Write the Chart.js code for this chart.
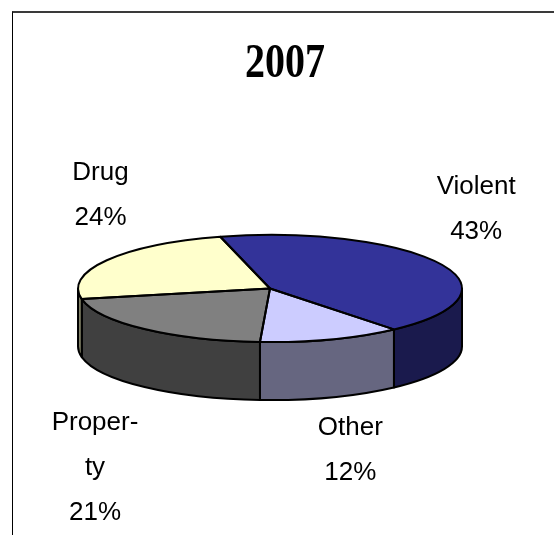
<!DOCTYPE html>
<html>
<head>
<meta charset="utf-8">
<script src="https://cdn.jsdelivr.net/npm/chart.js@4.4.1/dist/chart.umd.min.js"></script>
<style>
  html, body { margin: 0; padding: 0; background: #fff; overflow: hidden; }
  #wrap { position: relative; width: 554px; height: 535px; overflow: hidden; }
  #frame { position: absolute; left: 12px; top: 11px; width: 700px; height: 700px;
           border-top: 2px solid #3a3a3a; border-left: 1px solid #000; }
  canvas { position: absolute; left: 0; top: 0; }
</style>
</head>
<body>
<div id="wrap">
  <div id="frame"></div>
  <canvas id="chart" width="554" height="535"></canvas>
</div>
<script>
// Offender categories for 2007 and their shares (percent)
const chartTitle = '2007';
const categories = ['Violent', 'Other', 'Property', 'Drug'];
const shares = [43, 12, 21, 24];

// Palette: top faces and the darker side walls
const topColors  = ['#333399', '#CCCCFF', '#808080', '#FFFFCC'];
const sideColors = ['#1a1a4d', '#666680', '#404040', '#808066'];

// Per-label nudges from the default label spot (x, y in px)
const labelNudge = [[19, -67], [13, 33], [-37, 39], [10, -77]];

const TILT = 0.279;   // vertical squash of the disc
const DEPTH = 58;     // thickness of the disc in px
const LINE_H = 45;    // label line height

function wrapWord(ctx, word, maxW) {
  if (ctx.measureText(word).width <= maxW) return [word];
  let n = word.length - 1;
  while (n > 1 && ctx.measureText(word.slice(0, n) + '-').width > maxW) n--;
  return [word.slice(0, n) + '-'].concat(wrapWord(ctx, word.slice(n), maxW));
}

function arcProps(arc) {
  return arc.getProps(['x', 'y', 'startAngle', 'endAngle', 'outerRadius'], true);
}

const pie3d = {
  id: 'pie3d',
  beforeDatasetsDraw(chart) {
    const ctx = chart.ctx;
    const arcs = chart.getDatasetMeta(0).data;

    // front walls: the part of each slice that faces the viewer (0..PI)
    ctx.save();
    ctx.lineWidth = 2;
    ctx.lineJoin = 'round';
    ctx.strokeStyle = '#000';
    arcs.forEach((arc, i) => {
      const p = arcProps(arc);
      const ry = p.outerRadius * TILT;
      [-2 * Math.PI, 0, 2 * Math.PI].forEach(base => {
        const a1 = Math.max(p.startAngle, base);
        const a2 = Math.min(p.endAngle, base + Math.PI);
        if (a2 - a1 <= 1e-6) return;
        ctx.beginPath();
        ctx.ellipse(p.x, p.y, p.outerRadius, ry, 0, a1, a2);
        ctx.lineTo(p.x + p.outerRadius * Math.cos(a2), p.y + ry * Math.sin(a2) + DEPTH);
        ctx.ellipse(p.x, p.y + DEPTH, p.outerRadius, ry, 0, a2, a1, true);
        ctx.closePath();
        ctx.fillStyle = sideColors[i];
        ctx.fill();
        ctx.stroke();
      });
    });
    ctx.restore();

    // squash the library's circular slices into the tilted disc
    const c = arcProps(arcs[0]);
    ctx.save();
    ctx.translate(c.x, c.y);
    ctx.scale(1, TILT);
    ctx.translate(-c.x, -c.y);
  },
  afterDatasetsDraw(chart) {
    const ctx = chart.ctx;
    ctx.restore();
    const arcs = chart.getDatasetMeta(0).data;
    const total = shares.reduce((a, b) => a + b, 0);

    // slice outlines on the top face
    ctx.save();
    ctx.lineWidth = 2;
    ctx.lineJoin = 'round';
    ctx.strokeStyle = '#000';
    arcs.forEach(arc => {
      const p = arcProps(arc);
      ctx.beginPath();
      ctx.moveTo(p.x, p.y);
      ctx.ellipse(p.x, p.y, p.outerRadius, p.outerRadius * TILT, 0, p.startAngle, p.endAngle);
      ctx.closePath();
      ctx.stroke();
    });
    ctx.restore();

    // category labels with percentages
    ctx.save();
    ctx.font = '26px "Liberation Sans", Arial, sans-serif';
    ctx.textAlign = 'center';
    ctx.textBaseline = 'alphabetic';
    ctx.fillStyle = '#000';
    arcs.forEach((arc, i) => {
      const p = arcProps(arc);
      const mid = (p.startAngle + p.endAngle) / 2;
      const lower = Math.sin(mid) > 0;
      const ax = p.x + Math.cos(mid) * p.outerRadius * 1.1 + labelNudge[i][0];
      const ay = p.y + Math.sin(mid) * p.outerRadius * TILT * 1.1 + (lower ? DEPTH : 0) + labelNudge[i][1];
      const pct = Math.round(shares[i] / total * 100) + '%';
      const lines = wrapWord(ctx, categories[i], 90).concat([pct]);
      lines.forEach((t, j) => ctx.fillText(t, ax, ay + j * LINE_H));
    });
    ctx.restore();

    // title, set in a tall bold serif
    ctx.save();
    ctx.font = 'bold 40px "Liberation Serif", "Times New Roman", serif';
    ctx.textAlign = 'center';
    ctx.textBaseline = 'alphabetic';
    ctx.fillStyle = '#000';
    ctx.translate(285, 77);
    ctx.scale(1, 1.2);
    ctx.fillText(chartTitle, 0, 0);
    ctx.restore();
  }
};

new Chart(document.getElementById('chart'), {
  type: 'pie',
  data: {
    labels: categories,
    datasets: [{
      data: shares,
      backgroundColor: topColors,
      borderWidth: 0,
      radius: 192,
      clip: false
    }]
  },
  options: {
    responsive: false,
    animation: false,
    events: [],
    rotation: -15,
    layout: { padding: { top: 42, bottom: 0, left: 0, right: 14 } },
    plugins: {
      legend: { display: false },
      title: { display: false },
      tooltip: { enabled: false }
    }
  },
  plugins: [pie3d]
});
</script>
</body>
</html>
